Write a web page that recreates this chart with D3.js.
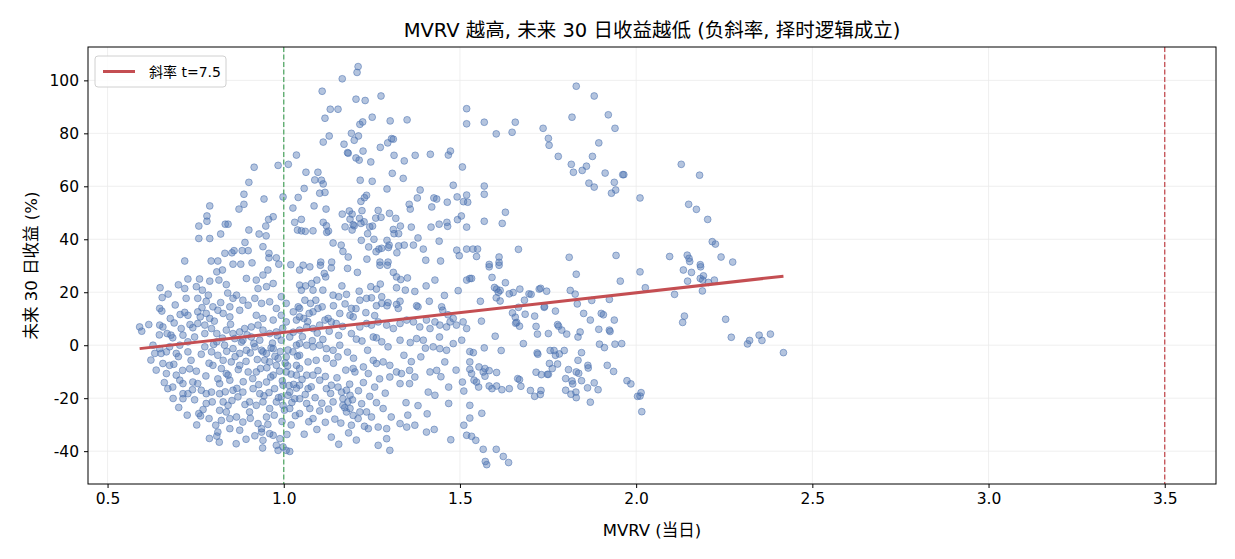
<!DOCTYPE html>
<html lang="zh">
<head>
    <meta charset="UTF-8">
    <title>MVRV vs 未来 30 日收益</title>
    <script src="https://d3js.org/d3.v7.min.js"></script>
    <style>
        body {
            margin: 0;
            padding: 0;
            background: #fff;
            font-family: "DejaVu Sans", "Noto Sans CJK SC", sans-serif;
        }
        .grid line {
            stroke: #ebebeb;
            stroke-width: 0.8px;
        }
        .axis text {
            font-size: 15.5px;
            fill: #000;
            font-family: "DejaVu Sans", sans-serif;
        }
        .axis path, .axis line {
            stroke: #000;
        }
        .dot {
            fill: rgba(76, 114, 176, 0.42);
            stroke: rgba(76, 114, 176, 0.55);
            stroke-width: 1px;
        }
    </style>
</head>
<body>
    <div id="chart"></div>

    <script>
        // 散点: [MVRV, 未来30日收益%]
        const points = [
            [0.916,67.2],[0.984,67.9],[1.013,68.3],[1.036,71.8],[0.901,61.5],[0.887,57.0],[0.887,53.2],[0.873,51.4],[0.944,55.2],[0.998,56.0],
            [1.026,51.8],[0.790,52.6],[0.782,48.8],[0.782,46.8],[0.759,45.0],[0.759,40.3],[0.790,40.3],[0.821,42.0],[0.834,45.7],[0.842,45.7],
            [0.901,43.5],[0.930,42.0],[0.950,41.3],[0.949,45.0],[0.957,47.5],[0.970,48.5],[1.031,46.4],[1.039,43.5],[0.890,38.8],[0.941,37.2],
            [0.882,35.7],[0.899,35.7],[0.859,35.7],[0.833,34.7],[0.853,34.9],[0.958,34.7],[0.958,33.0],[0.979,33.0],[0.719,31.8],[0.794,31.8],
            [0.813,31.8],[0.856,30.6],[0.878,30.6],[0.910,31.1],[0.986,30.6],[1.020,30.4],[1.041,55.8],
            [1.211,105.2],[1.208,103.0],[1.166,100.6],[1.109,95.9],[1.276,94.1],[1.205,92.9],[1.231,92.4],[1.132,89.1],[1.154,89.1],[1.117,85.7],
            [1.251,86.1],[1.302,84.7],[1.350,85.1],[1.216,83.4],[1.224,84.3],[1.519,89.3],[1.519,83.6],[1.192,80.0],[1.212,79.0],[1.200,77.4],
            [1.129,79.0],[1.112,76.7],[1.171,75.9],[1.306,78.0],[1.311,77.8],[1.295,76.4],[1.274,74.7],[1.181,72.7],[1.183,72.5],[1.225,73.3],
            [1.205,70.7],[1.214,69.9],[1.247,69.2],[1.313,71.7],[1.342,69.6],[1.373,71.7],[1.416,72.1],[1.467,71.8],[1.473,73.3],[1.507,67.3],
            [1.063,65.3],[1.097,65.3],[1.308,64.9],[1.339,63.0],[1.088,62.4],[1.107,62.3],[1.112,60.9],[1.217,62.3],[1.251,61.9],[1.058,59.2],
            [1.102,57.4],[1.117,57.7],[1.293,59.0],[1.387,58.6],[1.481,60.4],[1.235,56.6],[1.229,55.7],[1.219,54.3],[1.379,55.6],[1.426,55.6],
            [1.434,55.2],[1.492,56.0],[1.519,56.7],[1.522,54.0],[1.464,54.0],[1.510,54.2],[1.356,53.2],[1.359,51.4],[1.420,52.2],[1.086,52.6],
            [1.120,51.4],[1.222,50.8],[1.268,50.9],[1.300,49.8],[1.166,49.5],[1.186,50.7],[1.194,49.5],[1.188,47.6],[1.215,47.9],[1.219,46.0],
            [1.228,46.6],[1.197,45.5],[1.261,48.0],[1.276,48.3],[1.318,47.9],[1.050,47.5],[1.493,47.4],[1.504,48.8],[1.463,46.4],[1.465,44.9],
            [1.441,45.7],[1.418,44.6],[1.362,44.6],[1.519,44.6],[1.112,46.4],[1.121,45.1],[1.127,43.1],[1.122,42.6],[1.174,44.7],[1.194,43.5],
            [1.200,45.1],[1.238,42.1],[1.244,44.7],[1.252,45.0],[1.311,43.7],[1.326,42.1],[1.331,45.0],[1.313,42.1],[1.050,43.2],[1.061,43.0],
            [1.083,43.2],[1.220,39.6],[1.293,39.6],[1.299,37.8],[1.381,40.5],[1.368,37.8],[1.441,39.3],[1.140,38.6],[1.163,37.8],[1.168,35.4],
            [1.241,37.1],[1.256,40.0],[1.270,36.3],[1.278,36.6],[1.262,35.3],[1.297,36.9],[1.326,37.5],[1.342,37.8],[1.396,36.3],[1.491,35.9],
            [1.498,33.8],[1.321,34.9],[1.183,33.3],[1.236,32.5],[1.105,31.4],[1.136,31.4],[1.273,31.4],[1.296,31.4],[1.403,32.1],[1.445,31.8],
            [1.519,36.3],
            [1.830,97.8],[1.881,94.1],[1.818,86.1],[1.921,87.0],[1.940,81.9],[1.569,84.2],[1.657,84.2],[1.648,80.4],[1.603,79.8],[1.736,81.9],
            [1.751,78.1],[1.753,75.5],[1.894,76.4],[1.876,71.3],[1.779,71.3],[1.816,68.3],[1.822,65.3],[1.847,66.0],[1.859,67.6],[1.912,65.0],
            [1.962,64.4],[1.965,64.4],[1.938,61.5],[1.866,61.2],[1.881,59.7],[1.930,57.4],[1.942,58.6],[2.011,55.6],[1.569,60.1],[1.569,57.0],
            [1.629,50.2],[1.620,46.0],[1.569,46.8],[1.666,36.2],[1.537,36.3],[1.550,36.3],[1.547,33.5],[1.611,33.3],[1.611,31.3],[1.583,30.5],
            [1.810,33.2],[1.943,33.9],
            [2.128,68.3],[2.180,64.2],[2.149,53.2],[2.171,51.3],[2.203,47.5],[2.216,39.1],[2.225,38.2],[2.095,33.5],[2.145,34.0],[2.150,32.8],
            [2.152,31.6],[2.182,30.4],[2.241,33.3],[2.274,31.4],
            [2.011,27.7],[2.134,28.4],[2.157,27.5],[2.183,29.6],[2.026,21.7],[2.146,24.2],[2.182,25.2],[2.191,26.2],[2.189,24.6],[2.205,23.7],
            [2.222,24.6],[2.188,20.5],[2.109,19.2],[2.137,11.0],[2.132,8.6],[2.254,9.8],[2.270,3.0],[2.316,0.5],[2.322,1.8],[2.349,3.8],
            [2.357,1.8],[2.381,4.2],[2.418,-2.8],[2.014,-17.9],[2.011,-19.2],[2.016,-25.1],
            [1.830,26.8],[1.955,24.2],[1.528,25.2],[1.533,25.2],[1.583,29.6],[1.611,30.2],[1.591,25.6],[1.629,23.6],[1.598,21.8],[1.604,21.2],
            [1.614,20.7],[1.609,20.0],[1.603,17.9],[1.614,16.7],[1.558,16.6],[1.640,19.4],[1.651,19.9],[1.670,21.2],[1.696,19.4],[1.702,19.2],
            [1.725,21.2],[1.729,21.5],[1.746,20.4],[1.683,17.0],[1.666,14.3],[1.685,11.7],[1.712,11.0],[1.739,14.3],[1.740,14.6],[1.771,12.9],
            [1.813,20.7],[1.827,19.3],[1.833,15.6],[1.874,16.9],[1.924,17.3],[1.851,12.0],[1.901,12.0],[1.907,11.5],[1.938,9.5],[1.870,9.5],
            [1.649,12.2],[1.657,10.6],[1.661,8.6],[1.669,7.2],[1.658,8.3],[1.561,9.1],[1.716,7.1],[1.720,4.2],[1.751,4.4],[1.777,7.8],
            [1.780,7.2],[1.789,5.7],[1.803,4.2],[1.841,5.0],[1.835,3.1],[1.894,6.0],[1.924,5.7],[1.926,5.2],[1.600,3.4],[1.680,0.6],
            [1.896,0.4],[1.910,-0.9],[1.940,0.4],[1.959,0.6],[1.569,-1.0],[1.617,-2.0],[1.719,-2.9],[1.721,-3.4],[1.756,-2.0],[1.767,-2.0],
            [1.771,-3.8],[1.782,-3.3],[1.796,-2.0],[1.845,-2.8],[1.835,-5.7],[1.777,-7.1],[1.754,-6.9],[1.528,-2.4],[1.538,-2.8],[1.528,-6.3],
            [1.528,-9.1],[1.533,-10.7],[1.554,-8.2],[1.571,-8.8],[1.566,-10.1],[1.583,-9.6],[1.604,-10.3],[1.571,-11.7],[1.540,-13.2],[1.547,-13.9],
            [1.553,-15.8],[1.583,-15.4],[1.591,-16.4],[1.604,-15.4],[1.619,-16.8],[1.640,-16.4],[1.664,-12.6],[1.669,-13.0],[1.673,-15.5],[1.716,-10.2],
            [1.731,-11.1],[1.748,-11.0],[1.751,-11.0],[1.762,-8.8],[1.700,-17.1],[1.712,-19.3],[1.728,-18.6],[1.730,-17.1],[1.808,-9.2],[1.800,-12.6],
            [1.818,-13.5],[1.820,-14.6],[1.830,-10.1],[1.837,-10.6],[1.845,-13.4],[1.800,-17.0],[1.815,-18.5],[1.829,-17.7],[1.830,-19.8],[1.863,-7.6],
            [1.864,-8.6],[1.862,-16.1],[1.881,-14.2],[1.892,-16.8],[1.870,-21.5],[1.918,-7.6],[1.936,-9.9],[1.974,-13.4],[1.985,-14.6],[2.004,-19.3],
            [1.528,-22.7],[1.528,-27.5],[1.562,-25.7],[1.533,-34.4],[1.545,-35.9],[1.566,-39.3],[1.603,-39.3],[1.623,-42.0],[1.638,-44.3],[1.572,-43.9],
            [1.576,-45.1],
            [1.045,28.4],[1.055,30.2],[1.074,29.6],[1.104,30.2],[1.115,27.1],[1.135,29.2],[1.119,25.8],[1.094,24.6],[1.079,23.3],[1.062,22.4],
            [1.083,20.8],[1.045,22.7],[1.050,20.8],[1.181,29.0],[1.209,27.5],[1.273,30.2],[1.294,30.2],[1.311,27.5],[1.320,25.8],[1.332,24.8],
            [1.351,25.4],[1.429,24.6],[1.519,24.6],[1.247,22.1],[1.263,21.2],[1.274,23.1],[1.214,20.4],[1.320,21.7],[1.345,20.8],[1.140,18.9],
            [1.156,18.3],[1.178,19.2],[1.216,17.0],[1.235,17.7],[1.249,17.9],[1.278,18.3],[1.278,15.8],[1.296,16.1],[1.263,14.9],[1.293,14.9],
            [1.330,16.6],[1.320,15.4],[1.325,13.9],[1.377,14.9],[1.381,14.5],[1.413,16.6],[1.448,14.5],[1.451,13.2],[1.481,10.1],[1.472,8.8],
            [1.509,8.8],[1.519,6.3],[1.060,17.0],[1.076,15.8],[1.091,17.0],[1.097,13.9],[1.109,14.5],[1.083,12.6],[1.072,12.0],[1.045,13.9],
            [1.045,10.7],[1.057,10.1],[1.159,12.0],[1.188,11.3],[1.192,13.9],[1.197,10.7],[1.126,10.1],[1.117,9.5],[1.135,8.8],[1.149,8.2],
            [1.102,7.6],[1.083,6.3],[1.065,6.9],[1.045,5.7],[1.216,6.9],[1.235,8.2],[1.249,7.6],[1.268,8.8],[1.292,7.6],[1.311,6.3],
            [1.330,8.2],[1.349,9.5],[1.368,8.8],[1.386,6.9],[1.405,9.5],[1.429,8.8],[1.415,6.3],[1.443,7.6],[1.462,6.9],[1.490,7.6],
            [1.192,4.4],[1.206,2.3],[1.254,3.1],[1.263,2.8],[1.278,1.3],[1.296,-0.6],[1.330,1.9],[1.359,1.0],[1.377,2.5],[1.396,1.9],
            [1.424,-0.6],[1.443,-1.3],[1.462,-1.9],[1.481,0.6],[1.505,1.9],[1.045,0.6],[1.065,0.0],[1.083,-0.6],[1.102,0.0],[1.121,-1.3],
            [1.140,-1.9],[1.159,0.0],[1.045,-3.8],[1.069,-6.3],[1.092,-5.7],[1.121,-5.0],[1.154,-4.4],[1.197,-8.8],[1.202,-10.1],[1.240,-10.7],
            [1.226,-8.2],[1.254,-5.7],[1.263,-6.9],[1.282,-6.3],[1.301,-7.6],[1.320,-10.1],[1.301,-12.0],[1.334,-10.7],[1.357,-9.5],[1.372,-12.0],
            [1.357,-14.5],[1.330,-14.5],[1.415,-10.1],[1.434,-9.5],[1.410,-17.7],[1.429,-18.9],[1.457,-6.3],[1.507,-13.9],[1.511,-17.3],[1.045,-8.8],
            [1.065,-11.3],[1.083,-11.3],[1.045,-15.1],[1.069,-16.4],[1.102,-13.2],[1.121,-16.4],[1.135,-15.1],[1.154,-15.8],[1.164,-17.7],[1.178,-17.0],
            [1.188,-18.9],[1.168,-20.2],[1.182,-21.4],[1.140,-21.4],[1.168,-22.7],[1.188,-23.9],[1.178,-25.2],[1.197,-26.5],[1.211,-27.7],[1.216,-25.2],
            [1.235,-25.2],[1.249,-27.1],[1.263,-21.7],[1.282,-23.9],[1.305,-27.1],[1.330,-29.6],[1.349,-30.9],[1.192,-30.2],[1.240,-31.5],[1.268,-30.9],
            [1.292,-31.5],[1.292,-35.3],[1.268,-37.8],[1.301,-39.7],[1.372,-30.2],[1.405,-32.8],[1.427,-31.8],[1.474,-35.7],[1.511,-30.2],[1.519,-34.0],
            [1.347,-21.7],[1.468,-22.0],[1.045,-20.2],[1.065,-22.0],[1.074,-23.9],[1.045,-25.8],[1.083,-27.7],[1.102,-24.8],
            [0.728,25.0],[0.761,25.0],[0.790,24.2],[0.816,24.6],[0.837,22.9],[0.810,27.7],[0.826,28.4],[0.752,22.1],[0.769,20.8],[0.719,21.4],
            [0.649,21.7],[0.655,18.0],[0.723,17.7],[0.756,17.7],[0.780,16.6],[0.648,13.9],[0.654,12.9],[0.648,7.6],[0.657,6.9],[0.591,6.9],
            [0.597,5.3],[0.617,7.8],[0.678,10.1],[0.706,11.6],[0.719,12.4],[0.728,11.3],[0.669,4.4],[0.680,3.8],[0.685,2.8],[0.709,6.3],
            [0.714,3.8],[0.756,12.6],[0.763,10.7],[0.780,12.0],[0.790,10.1],[0.799,14.5],[0.813,13.2],[0.828,12.0],[0.847,10.7],[0.756,8.2],
            [0.776,7.6],[0.795,6.3],[0.776,4.4],[0.810,4.4],[0.837,5.7],[0.856,4.4],[0.875,5.0],[0.889,6.3],[0.908,6.9],[0.927,7.6],
            [0.941,5.7],[0.960,4.4],[0.866,18.9],[0.856,17.7],[0.884,17.0],[0.847,14.5],[0.875,13.2],[0.899,15.1],[0.894,25.2],[0.922,24.6],
            [0.941,26.5],[0.955,28.4],[0.970,23.3],[0.927,21.4],[0.951,22.1],[0.918,17.7],[0.937,15.8],[0.960,16.4],[0.979,13.9],[0.993,18.3],
            [1.007,15.8],[1.027,12.6],[1.041,14.5],[0.922,11.3],[0.941,10.1],[0.970,9.5],[0.993,11.3],[1.007,8.8],[1.036,9.5],[0.979,5.0],
            [0.993,1.9],[1.017,3.1],[1.036,0.0],[0.634,-3.1],[0.652,-3.1],[0.667,-2.5],[0.695,-3.1],[0.728,-2.5],[0.737,-5.7],[0.657,-6.9],
            [0.676,-7.6],[0.667,-10.7],[0.776,-0.6],[0.795,-2.5],[0.813,-3.8],[0.828,-5.7],[0.799,-7.6],[0.823,-8.8],[0.837,-10.7],[0.856,-1.3],
            [0.875,-3.1],[0.894,-1.9],[0.918,-0.6],[0.937,-1.9],[0.951,-3.1],[0.970,-1.3],[0.984,-5.0],[1.007,-4.4],[1.026,-2.5],[0.695,-11.3],
            [0.705,-13.2],[0.714,-14.5],[0.742,-13.9],[0.685,-15.8],[0.671,-16.4],[0.714,-18.3],[0.728,-18.3],[0.714,-20.2],[0.756,-14.5],[0.766,-17.0],
            [0.780,-18.3],[0.795,-17.7],[0.780,-22.0],[0.818,-14.5],[0.818,-18.3],[0.842,-11.3],[0.847,-13.2],[0.856,-17.0],[0.870,-19.5],[0.884,-17.7],
            [0.913,-16.4],[0.932,-18.3],[0.828,-21.4],[0.842,-22.7],[0.818,-24.6],[0.837,-25.2],[0.823,-28.4],[0.847,-27.7],[0.866,-27.1],[0.884,-29.0],
            [0.875,-32.1],[0.847,-31.5],[0.759,-25.8],[0.764,-26.7],[0.788,-27.7],[0.807,-30.2],[0.813,-32.8],[0.817,-36.6],[0.810,-34.3],[0.903,-21.4],
            [0.922,-22.7],[0.941,-21.4],[0.960,-23.9],[0.979,-21.4],[0.998,-22.7],[1.017,-23.9],[0.993,-19.5],[1.012,-18.9],[1.031,-20.2],[0.903,-25.2],
            [0.927,-29.6],[0.937,-31.5],[0.951,-27.1],[0.937,-32.8],[0.960,-33.4],[0.970,-34.0],[0.941,-35.9],[0.979,-37.8],[0.989,-35.3],[0.998,-38.4],
            [1.007,-39.7],[1.017,-40.1],[0.984,-39.7],[0.940,-38.8],[0.941,-2.5],[0.960,-6.3],[0.979,-7.6],[0.970,-11.3],[0.922,-10.1],[0.899,-10.1],
            [0.951,-13.9],[0.974,-16.4],[0.998,-15.1],[1.017,-17.7],[1.036,-11.3],[1.036,-7.6],[1.007,-10.1],[0.875,-7.6],[0.851,-6.3],[0.861,2.5],
            [0.884,1.9],[0.908,3.1],[0.932,1.9],[0.810,1.3],[0.832,0.0],[0.629,0.0],[0.648,-1.3],[0.676,-0.6],[0.705,0.0],[0.728,1.3],
            [0.747,3.1],
            [0.952,-8.5],[0.963,-12.0],[0.975,-4.2],[0.988,-9.8],[0.996,-13.5],[1.004,-6.7],[1.012,-1.8],[1.021,-10.9],[1.028,-14.8],[0.958,-17.9],
            [0.985,-19.8],[1.002,-24.5],[1.023,-21.6],[1.036,-16.2],[0.968,0.8],[0.982,3.6],[0.997,6.4],[1.011,-7.8],[1.027,4.9],[1.039,-4.1],
            [0.946,-5.6],[0.964,-1.0],[0.990,-2.4],[1.015,-15.2],[0.973,-26.4],[0.995,-28.8],[1.021,-30.1],[1.033,-26.6],[1.009,-33.7],[0.955,-29.9],
            [0.862,-4.3],[0.871,-9.2],[0.885,-13.8],[0.893,-6.1],[0.905,-2.9],[0.912,-12.6],[0.925,-5.4],[0.934,-8.8],[0.880,1.2],[0.896,3.9],
            [0.915,0.7],[0.929,-14.9],[0.944,-19.1],[0.890,-22.4],[0.867,-16.3],[0.853,-20.9],[0.905,-27.6],[0.918,-34.2],[0.893,-35.5],[0.865,-37.2],
            [0.752,-9.8],[0.766,-3.4],[0.779,-11.6],[0.788,-6.8],[0.801,0.3],[0.813,-12.7],[0.826,2.7],[0.838,-2.3],[0.849,7.9],[0.742,6.6],
            [0.768,14.2],[0.786,18.9],[0.803,9.1],[0.821,16.1],[0.841,19.7],[0.733,-8.9],[0.747,-20.6],[0.771,-24.3],[0.797,-21.4],[0.834,-17.6],
            [0.753,-30.1],[0.789,-35.2],[0.623,-5.6],[0.638,-9.4],[0.661,-14.1],[0.688,-7.2],[0.701,-4.3],[0.713,-9.5],[0.692,15.2],[0.672,19.3],
            [0.701,22.8],[0.689,8.4],[0.734,7.8],[0.647,3.9],[0.741,-16.8],[0.702,-23.5],[0.686,-20.1],[0.726,-26.4],
            [1.052,-12.9],[1.061,-18.6],[1.078,-15.7],[1.089,-19.8],[1.097,-9.6],[1.108,-21.9],[1.118,-11.8],[1.127,-24.1],[1.133,-18.2],[1.145,-27.9],
            [1.151,-12.3],[1.162,-29.4],[1.173,-23.6],[1.184,-33.1],[1.195,-20.6],[1.206,-35.8],[1.221,-22.1],[1.229,-30.6],[1.118,-29.1],[1.094,-31.8],
            [1.071,-28.9],[1.058,-33.6],[1.135,-34.7],[1.156,-37.4],[1.176,-9.4],[1.187,-14.7],[1.212,-17.2],[1.226,-14.1],[1.244,-19.3],[1.258,-15.8],
            [1.272,-12.7],[1.288,-18.1],
            [1.053,3.2],[1.068,8.9],[1.081,1.7],[1.095,4.6],[1.111,2.2],[1.129,5.3],[1.141,-6.8],[1.156,3.7],[1.167,7.1],[1.181,-2.6],
            [1.174,15.6],[1.141,14.9],[1.111,20.8],[1.165,22.4],[1.198,-4.9],[1.222,1.6],[1.238,-1.9],[1.233,12.3],[1.205,13.8],[1.258,11.2],
            [1.341,-3.8],[1.362,-6.2],[1.389,-4.4],[1.402,-1.1],[1.446,-11.9],[1.468,-15.8],[1.489,-9.4],[1.381,-22.8],[1.407,-25.9],[1.352,-26.4],
            [1.442,3.1],[1.466,11.5],[1.372,20.3],[1.404,22.4],[1.456,18.8],[1.495,20.6]
        ];

        // 线性拟合 (图中读出)
        const fitIntercept = -10.13;
        const fitSlope = 14.97;
        const fitLabel = "斜率 t=7.5";

        // 参考线
        const refLines = [
            { x: 1.0, color: "#55A868" },
            { x: 3.5, color: "#C44E52" }
        ];

        const xTicks = [0.5, 1.0, 1.5, 2.0, 2.5, 3.0, 3.5];
        const yTicks = [-40, -20, 0, 20, 40, 60, 80, 100];

        const width = 1235;
        const height = 559;
        const margin = { top: 47, right: 19, bottom: 75, left: 88 };
        const innerW = width - margin.left - margin.right;
        const innerH = height - margin.top - margin.bottom;

        const svg = d3.select("#chart")
            .append("svg")
            .attr("width", width)
            .attr("height", height);

        const g = svg.append("g")
            .attr("transform", `translate(${margin.left},${margin.top})`);

        const x = d3.scaleLinear().domain([0.4445, 3.6455]).range([0, innerW]);
        const y = d3.scaleLinear().domain([-52.4, 112.6]).range([innerH, 0]);

        // 网格
        g.append("g")
            .attr("class", "grid")
            .selectAll("line")
            .data(xTicks)
            .enter().append("line")
            .attr("x1", d => x(d)).attr("x2", d => x(d))
            .attr("y1", 0).attr("y2", innerH);
        g.append("g")
            .attr("class", "grid")
            .selectAll("line")
            .data(yTicks)
            .enter().append("line")
            .attr("x1", 0).attr("x2", innerW)
            .attr("y1", d => y(d)).attr("y2", d => y(d));

        // 散点
        svg.append("clipPath").attr("id", "plotclip")
            .append("rect").attr("width", innerW).attr("height", innerH);

        g.append("g")
            .attr("clip-path", "url(#plotclip)")
            .selectAll("circle")
            .data(points)
            .enter().append("circle")
            .attr("class", "dot")
            .attr("cx", d => x(d[0]))
            .attr("cy", d => y(d[1]))
            .attr("r", 3.4);

        // 参考竖线
        g.append("g")
            .selectAll("line")
            .data(refLines)
            .enter().append("line")
            .attr("x1", d => x(d.x)).attr("x2", d => x(d.x))
            .attr("y1", 0).attr("y2", innerH)
            .attr("stroke", d => d.color)
            .attr("stroke-width", 1.3)
            .attr("stroke-dasharray", "5,2.5");

        // 拟合线
        const xExt = d3.extent(points, d => d[0]);
        g.append("line")
            .attr("x1", x(xExt[0]))
            .attr("y1", y(fitIntercept + fitSlope * xExt[0]))
            .attr("x2", x(xExt[1]))
            .attr("y2", y(fitIntercept + fitSlope * xExt[1]))
            .attr("stroke", "#C44E52")
            .attr("stroke-width", 3);

        // 坐标轴 (刻度用普通连字符)
        g.append("g")
            .attr("class", "axis")
            .attr("transform", `translate(0,${innerH})`)
            .call(d3.axisBottom(x).tickValues(xTicks).tickFormat(d => d.toFixed(1)).tickSize(4).tickPadding(5))
            .call(a => a.select(".domain").remove());
        g.append("g")
            .attr("class", "axis")
            .call(d3.axisLeft(y).tickValues(yTicks).tickFormat(d => String(d)).tickSize(4).tickPadding(5))
            .call(a => a.select(".domain").remove());

        // 边框
        g.append("rect")
            .attr("width", innerW)
            .attr("height", innerH)
            .attr("fill", "none")
            .attr("stroke", "#000")
            .attr("stroke-width", 1);

        // 图例
        const legend = g.append("g").attr("transform", "translate(7,9)");
        legend.append("rect")
            .attr("width", 131).attr("height", 31)
            .attr("rx", 3)
            .attr("fill", "rgba(255,255,255,0.85)")
            .attr("stroke", "#d0d0d0");
        legend.append("line")
            .attr("x1", 8).attr("x2", 40)
            .attr("y1", 15.5).attr("y2", 15.5)
            .attr("stroke", "#C44E52")
            .attr("stroke-width", 3);
        legend.append("text")
            .attr("x", 54).attr("y", 20.5)
            .attr("font-size", 14)
            .text(fitLabel);

        // 标题与轴标签
        svg.append("text")
            .attr("x", margin.left + innerW / 2)
            .attr("y", 37)
            .attr("text-anchor", "middle")
            .attr("font-size", 19.5)
            .text("MVRV 越高, 未来 30 日收益越低 (负斜率, 择时逻辑成立)");

        svg.append("text")
            .attr("x", margin.left + innerW / 2)
            .attr("y", 536)
            .attr("text-anchor", "middle")
            .attr("font-size", 16.5)
            .text("MVRV (当日)");

        svg.append("text")
            .attr("transform", `translate(37,${margin.top + innerH / 2}) rotate(-90)`)
            .attr("text-anchor", "middle")
            .attr("font-size", 16.5)
            .text("未来 30 日收益 (%)");
    </script>
</body>
</html>
